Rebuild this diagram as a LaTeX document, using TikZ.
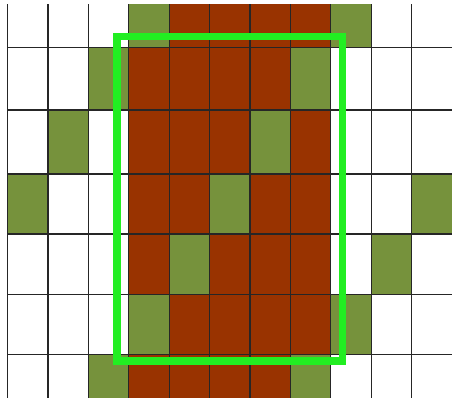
\documentclass[tikz,border=0pt]{standalone}
\usepackage{tikz}
\definecolor{rust}{HTML}{993300}
\definecolor{olive}{HTML}{76923C}
\definecolor{lime}{HTML}{22EE22}
\tikzset{
  gridline/.style={draw=black!85, line width=0.6pt},
  frame/.style={draw=lime, line width=3.6pt}
}

\begin{document}
\begin{tikzpicture}[x=0.5pt, y=-0.5pt]
        \useasboundingbox (0,0) rectangle (452,398);
        % cells: W white, G olive, B rust; rows given by top/bottom edge
        \foreach \top/\bot/\row in {4/47.3/{W,W,W,G,B,B,B,B,G,W,W},
                                    47.3/110/{W,W,G,B,B,B,B,G,W,W,W},
                                    110/174/{W,G,W,B,B,B,G,B,W,W,W},
                                    174/234/{G,W,W,B,B,G,B,B,W,W,G},
                                    234/294.7/{W,W,W,B,G,B,B,B,W,G,W},
                                    294.7/354.5/{W,W,W,G,B,B,B,B,G,W,W},
                                    354.5/398/{W,W,G,B,B,B,B,G,W,W,W}} {
          \foreach \c [count=\q from 0] in \row {
            \if\c B\def\col{rust}\else\if\c G\def\col{olive}\else\def\col{white}\fi\fi
            \fill[\col] (7.7+40.4*\q,\top) rectangle (48.1+40.4*\q,\bot);
          }
        }
        % grid
        \foreach \q in {0,...,10}
          \draw[gridline] (7.7+40.4*\q,4) -- (7.7+40.4*\q,398);
        \foreach \y in {47.3,110,174,234,294.7,354.5}
          \draw[gridline] (7.7,\y) -- (452,\y);
        % highlight
        \draw[frame] (117,36.5) rectangle (342.7,361);
      \end{tikzpicture}
\end{document}
